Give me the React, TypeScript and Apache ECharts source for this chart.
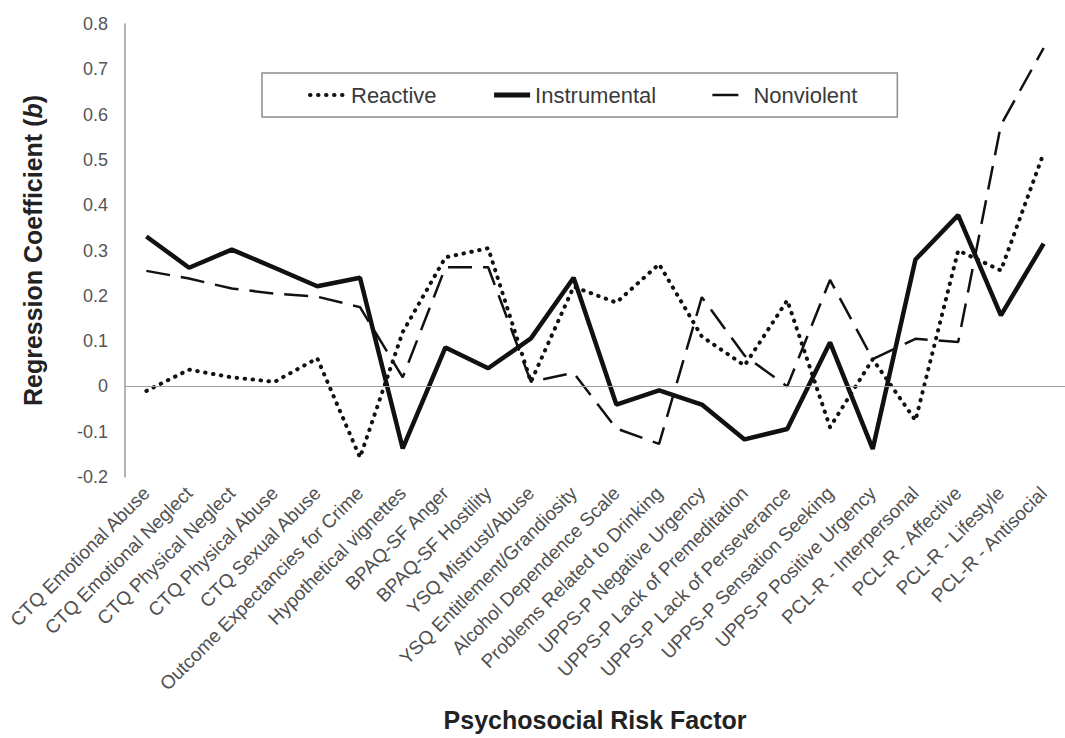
import React, { useEffect, useRef } from "react";
import * as echarts from "echarts";

const categories = [
  "CTQ Emotional Abuse",
  "CTQ Emotional Neglect",
  "CTQ Physical Neglect",
  "CTQ Physical Abuse",
  "CTQ Sexual Abuse",
  "Outcome Expectancies for Crime",
  "Hypothetical vignettes",
  "BPAQ-SF Anger",
  "BPAQ-SF Hostility",
  "YSQ Mistrust/Abuse",
  "YSQ Entitlement/Grandiosity",
  "Alcohol Dependence Scale",
  "Problems Related to Drinking",
  "UPPS-P Negative Urgency",
  "UPPS-P Lack of Premeditation",
  "UPPS-P Lack of Perseverance",
  "UPPS-P Sensation Seeking",
  "UPPS-P Positive Urgency",
  "PCL-R - Interpersonal",
  "PCL-R - Affective",
  "PCL-R - Lifestyle",
  "PCL-R - Antisocial",
];

const reactive = [
  -0.01, 0.037, 0.02, 0.01, 0.062, -0.157, 0.12, 0.285, 0.305, 0.01, 0.22,
  0.185, 0.27, 0.11, 0.046, 0.19, -0.09, 0.06, -0.075, 0.3, 0.256, 0.515,
];

const instrumental = [
  0.331, 0.262, 0.302, 0.262, 0.221, 0.24, -0.137, 0.086, 0.04, 0.106, 0.24,
  -0.04, -0.009, -0.04, -0.117, -0.094, 0.097, -0.138, 0.28, 0.378, 0.157,
  0.315,
];

const nonviolent = [
  0.255, 0.238, 0.216, 0.205, 0.198, 0.175, 0.02, 0.263, 0.263, 0.01, 0.03,
  -0.093, -0.127, 0.197, 0.068, 0.0, 0.235, 0.06, 0.105, 0.098, 0.577, 0.747,
];

const yMin = -0.2;
const yMax = 0.8;
const yStep = 0.1;

const FONT = "'Liberation Sans', Arial, sans-serif";

const dotted = { color: "#111", width: 4, type: [0.5, 7.5], cap: "round" };
const solid = { color: "#111", width: 4.5, type: "solid" };
const dashed = { color: "#111", width: 2.5, type: [24, 11] };

export default function App() {
  const ref = useRef<HTMLDivElement>(null);

  useEffect(() => {
    if (!ref.current) return;
    const chart = echarts.init(ref.current, undefined, { renderer: "svg" });
    chart.setOption({
      animation: false,
      backgroundColor: "#ffffff",
      textStyle: { fontFamily: FONT },
      legend: {
        left: 262,
        top: 73,
        padding: [11, 40, 11, 46],
        itemGap: 55,
        itemWidth: 36,
        itemHeight: 14,
        borderColor: "#8c8c8c",
        borderWidth: 1.5,
        itemStyle: { opacity: 0 },
        textStyle: { fontSize: 22, color: "#3a3a3a", fontFamily: FONT },
        data: [
          { name: "Reactive", lineStyle: { ...dotted } },
          { name: "Instrumental", lineStyle: { ...solid, width: 5 } },
          { name: "Nonviolent", lineStyle: { ...dashed, type: [26, 20] } },
        ],
      },
      grid: { left: 125, top: 24, width: 948, height: 453 },
      xAxis: {
        type: "category",
        data: categories,
        boundaryGap: true,
        axisLine: { show: false, onZero: false },
        axisTick: { show: false },
        axisLabel: {
          interval: 0,
          rotate: 45,
          margin: 13,
          fontSize: 19,
          color: "#505050",
          fontFamily: FONT,
        },
        name: "Psychosocial Risk Factor",
        nameLocation: "middle",
        nameGap: 230,
        nameTextStyle: {
          fontSize: 25,
          fontWeight: "bold",
          color: "#222",
          fontFamily: FONT,
        },
      },
      yAxis: {
        type: "value",
        min: yMin,
        max: yMax,
        interval: yStep,
        axisLine: { show: true, lineStyle: { color: "#9a9a9a", width: 1.5 } },
        axisTick: { show: false },
        splitLine: { show: false },
        axisLabel: {
          margin: 17,
          fontSize: 18,
          color: "#555",
          fontFamily: FONT,
          formatter: (v: number) => String(Math.round(v * 10) / 10),
        },
        name: "Regression Coefficient ({i|b})",
        nameLocation: "middle",
        nameGap: 80,
        nameRotate: 90,
        nameTextStyle: {
          fontSize: 25,
          fontWeight: "bold",
          color: "#222",
          fontFamily: FONT,
          rich: {
            i: {
              fontSize: 25,
              fontWeight: "bold",
              fontStyle: "italic",
              color: "#222",
              fontFamily: FONT,
            },
          },
        },
      },
      series: [
        {
          name: "Reactive",
          type: "line",
          data: reactive,
          symbol: "none",
          color: "#111",
          lineStyle: dotted,
          markLine: {
            silent: true,
            symbol: "none",
            label: { show: false },
            lineStyle: { color: "#a0a0a0", width: 1.2, type: "solid" },
            data: [{ yAxis: 0 }],
          },
          z: 3,
        },
        {
          name: "Instrumental",
          type: "line",
          data: instrumental,
          symbol: "none",
          color: "#111",
          lineStyle: solid,
          z: 4,
        },
        {
          name: "Nonviolent",
          type: "line",
          data: nonviolent,
          symbol: "none",
          color: "#111",
          lineStyle: dashed,
          z: 2,
        },
      ],
    });
    return () => chart.dispose();
  }, []);

  return (
    <div
      ref={ref}
      style={{ position: "absolute", left: 0, top: 0, width: 1065, height: 738 }}
    />
  );
}
